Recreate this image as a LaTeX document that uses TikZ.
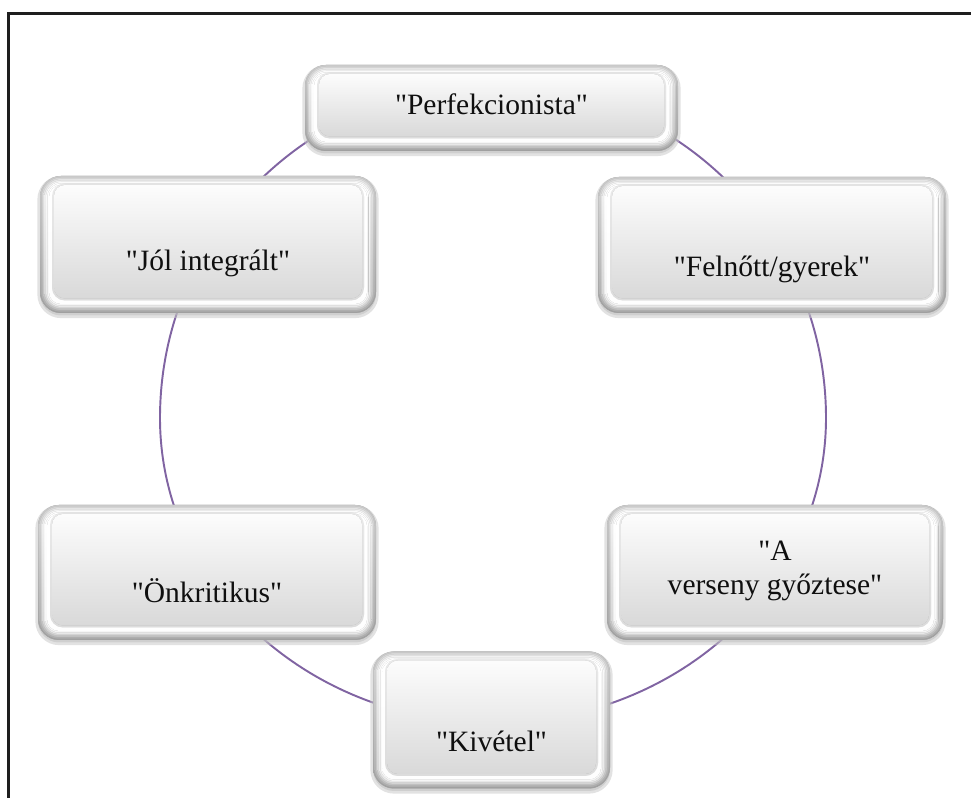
\documentclass[tikz,border=0pt]{standalone}
\usepackage{fontspec}
\setmainfont{Liberation Serif}[Ligatures=TeXOff]
\usetikzlibrary{calc,shadows,backgrounds}

\definecolor{ringpurple}{RGB}{128,100,162}
\definecolor{inkgray}{RGB}{15,15,15}
\definecolor{framegray}{RGB}{30,30,30}

\tikzset{
  frameline/.style={draw=framegray, line width=1.6pt},
  ring/.style={draw=ringpurple, line width=1.1pt},
  lbltext/.style={font=\fontsize{16.8}{19}\selectfont, text=inkgray, align=center, inner sep=0pt},
  % glossy bevelled rounded box
  bevelbox/.style={
    rectangle, rounded corners=0.42cm, inner sep=0pt,
    fill=gray!60,
    drop shadow={shadow xshift=0pt, shadow yshift=-0.05cm, opacity=0.5,
                 fill=gray!60, draw=gray!45, line width=3pt},
    path picture={
      \foreach \ins/\rr/\ca/\cb in {0/0.42/42/75, 0.03/0.39/32/64, 0.06/0.36/20/50,
                                    0.09/0.33/10/34, 0.12/0.30/3/18, 0.15/0.27/0/7,
                                    0.18/0.24/0/1}{
        \fill[top color=gray!\ca, bottom color=gray!\cb, rounded corners=\rr cm]
          ($(path picture bounding box.south west)+(\ins,\ins)$) rectangle
          ($(path picture bounding box.north east)+(-\ins,-\ins)$);
      }
      % soft edge of the inner face
      \fill[top color=gray!3, bottom color=gray!22, rounded corners=0.26cm, opacity=0.55]
        ($(path picture bounding box.south west)+(0.24,0.25)$) rectangle
        ($(path picture bounding box.north east)+(-0.24,-0.15)$);
      % inner face
      \fill[top color=gray!2, bottom color=gray!30, rounded corners=0.22cm]
        ($(path picture bounding box.south west)+(0.28,0.29)$) rectangle
        ($(path picture bounding box.north east)+(-0.28,-0.18)$);
    }
  }
}

% name, centre, width, height, label shift, text
\newcommand\bevelnode[6]{%
  \node[bevelbox, minimum width=#3cm, minimum height=#4cm,
        label={[lbltext, yshift=#5cm]center:{#6}}] (#1) at (#2) {};%
}

\begin{document}
\begin{tikzpicture}
  \useasboundingbox (0,0) rectangle (19.42,15.96);

  % frame lines
  \draw[frameline] (0.17,0) |- (19.42,15.69);

  \coordinate (hub) at (9.86,7.60);

  \bevelnode{perf}{9.83,13.80}{7.46}{1.72}{0.08}{"Perfekcionista"}
  \bevelnode{jol}{4.16,11.07}{6.72}{2.74}{-0.38}{"Jól integrált"}
  \bevelnode{feln}{15.44,11.06}{6.96}{2.72}{-0.48}{"Felnőtt/gyerek"}
  \bevelnode{vers}{15.50,4.51}{6.72}{2.70}{0.03}{"A\\verseny győztese"}
  \bevelnode{onk}{4.14,4.51}{6.76}{2.70}{-0.36}{"Önkritikus"}
  \bevelnode{kiv}{9.83,1.56}{4.74}{2.74}{-0.42}{"Kivétel"}

  % the cycle ring behind the boxes
  \begin{scope}[on background layer]
    \draw[ring] ($(hub)+(6.66,0)$)
      arc[start angle=0, end angle=180, radius=6.66cm]
      arc[start angle=180, end angle=360, x radius=6.66cm, y radius=6.10cm];
  \end{scope}
\end{tikzpicture}
\end{document}
